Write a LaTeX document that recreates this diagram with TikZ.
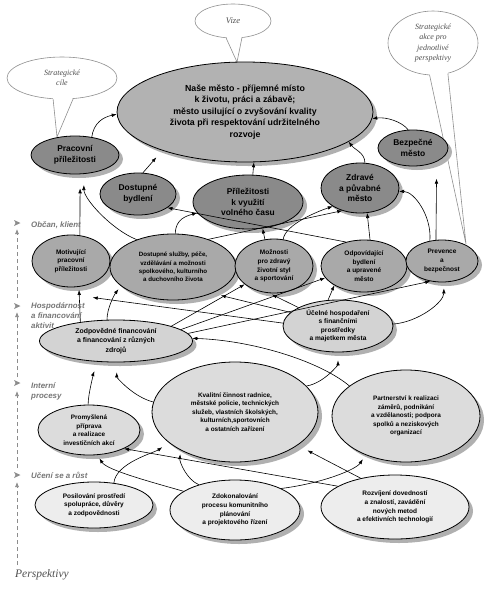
\documentclass[tikz,border=0pt]{standalone}
\usepackage{fontspec}
\setmainfont{Liberation Sans}
\newfontfamily\serifit{Liberation Serif}
\usetikzlibrary{shapes.geometric,shadows,arrows.meta,calc}
\definecolor{cdark}{HTML}{8A8A8A}
\definecolor{cmain}{HTML}{B2B2B2}
\definecolor{ccit}{HTML}{A9A9A9}
\definecolor{chos}{HTML}{D3D3D3}
\definecolor{cint}{HTML}{DCDCDC}
\definecolor{clrn}{HTML}{EDEDED}
\definecolor{cshadow}{HTML}{B0B0B0}
\definecolor{cbub}{HTML}{8F8F8F}
\definecolor{cbubtext}{HTML}{505050}
\definecolor{clab}{HTML}{777777}
\definecolor{caxis}{HTML}{8C8C8C}
\tikzset{
  sz/.style 2 args={minimum width=#1pt, minimum height=#2pt},
  nd/.style={ellipse, draw=black, line width=0.8pt, inner sep=0pt, align=center, text=black,
    drop shadow={shadow xshift=4pt, shadow yshift=-4pt, fill=cshadow, opacity=1}},
  sdark/.style={nd, fill=cdark, font=\fontsize{8.4}{10.8}\selectfont\bfseries},
  svis/.style={nd, fill=cmain, font=\fontsize{8.8}{11.4}\selectfont\bfseries},
  scit/.style={nd, fill=ccit, font=\fontsize{6.5}{8.6}\selectfont\bfseries},
  shos/.style={nd, fill=chos, font=\fontsize{6.6}{8.5}\selectfont\bfseries},
  sint/.style={nd, fill=cint, font=\fontsize{6.4}{8.6}\selectfont\bfseries},
  slrn/.style={nd, fill=clrn, font=\fontsize{6.5}{8.7}\selectfont\bfseries},
  bub/.style={ellipse, draw=cbub, line width=0.6pt, fill=white, inner sep=0pt, align=center,
    text=cbubtext, font=\serifit\itshape\fontsize{8}{10.5}\selectfont},
  lab/.style={font=\fontsize{7.9}{10}\selectfont\bfseries\itshape, text=clab, inner sep=0pt, align=left, anchor=west},
  arr/.style={-{Latex[length=5pt,width=3.6pt]}, line width=0.6pt, draw=black},
  tailline/.style={draw=cbub, line width=0.6pt},
  axisline/.style={draw=caxis, line width=0.7pt, dash pattern=on 4pt off 3pt, -{Latex[length=5pt,width=4pt]}},
}
\begin{document}
\begin{tikzpicture}[x=1pt,y=-1pt]
\fill[white] (0,0) rectangle (500,590);
\useasboundingbox (0,0) rectangle (500,590);

% ---------- callout bubbles ----------
\coordinate (vt) at (237,62);
\coordinate (ct) at (57,137);
\coordinate (at) at (466,244);
\node[bub, sz={76}{34}, font=\serifit\itshape\fontsize{8.6}{10}\selectfont] (vize) at (233,21) {Vize};
\node[bub, sz={110}{42}] (cile) at (62,78) {Strategické\\cíle};
\node[bub, sz={90}{64}] (akce) at (433,43) {Strategické\\akce pro\\jednotlivé\\perspektivy};
\fill[white] ([yshift=2pt]vize.-112) -- (vt) -- ([yshift=2pt]vize.-62) -- cycle;
\draw[tailline] (vize.-112) -- (vt) -- (vize.-62);
\fill[white] ([yshift=2pt]cile.-113) -- (ct) -- ([yshift=2pt]cile.-62) -- cycle;
\draw[tailline] (cile.-113) -- (ct) -- (cile.-62);
\fill[white] ([yshift=2pt]akce.-96) -- (at) -- ([yshift=2pt]akce.-64) -- cycle;
\draw[tailline] (akce.-96) -- (at) -- (akce.-64);

% ---------- vision and strategic goals ----------
\node[svis, sz={256}{100}] (vision) at (245,112) {Naše město - příjemné místo\\k životu, práci a zábavě;\\město usilující o zvyšování kvality\\života při respektování udržitelného\\rozvoje};
\node[sdark, sz={88}{38}] (prac) at (75,155) {Pracovní\\příležitosti};
\node[sdark, sz={76}{42}] (dbyd) at (138,194) {Dostupné\\bydlení};
\node[sdark, sz={110}{54}] (prilez) at (248,202) {Příležitosti\\k využití\\volného času};
\node[sdark, sz={78}{50}] (zdrav) at (360,188) {Zdravé\\a půvabné\\město};
\node[sdark, sz={70}{36}] (bezp) at (413,148) {Bezpečné\\město};

% ---------- citizen perspective ----------
\node[scit, sz={78}{52}] (motiv) at (71,261) {Motivující\\pracovní\\příležitosti};
\node[scit, sz={126}{66}, font=\fontsize{6.2}{8.2}\selectfont\bfseries] (dsluz) at (173,267) {Dostupné služby, péče,\\vzdělávání a možnosti\\spolkového, kulturního\\a duchovního života};
\node[scit, sz={78}{54}] (mozn) at (274,266) {Možnosti\\pro zdravý\\životní styl\\a sportování};
\node[scit, sz={86}{52}] (odpov) at (364,266) {Odpovídající\\bydlení\\a upravené\\město};
\node[scit, sz={72}{42}] (prev) at (442,261) {Prevence\\a\\bezpečnost};

% ---------- economy perspective ----------
\node[shos, sz={153}{42}, font=\fontsize{6.9}{9.5}\selectfont\bfseries] (zodp) at (116,341) {Zodpovědné financování\\a financování z různých\\zdrojů};
\node[shos, sz={110}{52}] (ucel) at (338,326) {Účelné hospodaření\\s  finančními\\prostředky\\a majetkem města};

% ---------- internal processes ----------
\node[sint, sz={102}{50}] (promy) at (89,430) {Promyšlená\\příprava\\a realizace\\investičních akcí};
\node[sint, sz={166}{100}] (kval) at (235,412) {Kvalitní činnost radnice,\\městské policie, technických\\služeb, vlastních školských,\\kulturních,sportovních\\a ostatních zařízení};
\node[sint, sz={148}{92}] (partn) at (406,416) {Partnerství k realizaci\\záměrů,  podnikání\\a vzdělanosti; podpora\\spolků a neziskových\\organizací};

% ---------- learning and growth ----------
\node[slrn, sz={118}{46}] (posil) at (94,505) {Posilování prostředí\\spolupráce, důvěry\\a zodpovědnosti};
\node[slrn, sz={130}{60}] (zdok) at (235,510) {Zdokonalování\\procesu komunitního\\plánování\\a projektového řízení};
\node[slrn, sz={148}{64}] (rozv) at (395,507) {Rozvíjení dovedností\\a znalostí, zavádění\\nových metod\\a efektivních technologií};

% ---------- connectors: goals -> vision ----------
\draw[arr] (prac.47) .. controls +(2,-14) and +(-14,3) .. (vision.181);
\draw[arr, shorten >=9pt] (dbyd.77) -- (vision.205);
\draw[arr] (prilez.80) -- (vision.-80);
\draw[arr] (zdrav.79) .. controls +(0,-10) and +(6,8) .. (vision.-16);
\draw[arr] (bezp.105) .. controls +(-6,-8) and +(14,-2) .. (vision.-3);

% ---------- citizen -> goals ----------
\draw[arr, shorten >=14pt] (motiv.71) -- (prac.-75);
\draw[arr, shorten >=11pt] (dsluz.143) .. controls +(-25,-10) and +(0,25) .. (prac.-65);
\draw[arr] (dsluz.86) .. controls +(0,-15) and +(-10,3) .. (prilez.192);
\draw[arr] (odpov.127) -- (dbyd.-25);
\draw[arr] (dsluz.38) -- (zdrav.232);
\draw[arr] (mozn.71) .. controls +(2,-15) and +(-15,5) .. (zdrav.214);
\draw[arr] (mozn.109) -- (prilez.-61);
\draw[arr] (odpov.77) -- (zdrav.-74);
\draw[arr] (prev.121) .. controls +(2,-25) and +(15,0) .. (zdrav.-5);
\draw[arr, shorten >=17pt] (prev.106) -- (bezp.-30);

% ---------- economy -> citizen ----------
\draw[arr, shorten >=3pt] (zodp.152) -- (motiv.-73);
\draw[arr, shorten >=4pt] (zodp.113) .. controls +(0,-12) and +(-6,8) .. (dsluz.200);
\draw[arr] (ucel.177) -- ([shift={(7,12)}]motiv.-59);
\draw[arr, shorten >=9pt] (ucel.164) -- (dsluz.-34);
\draw[arr, shorten >=3pt] (ucel.155) -- (mozn.-100);
\draw[arr] (zodp.15) -- (mozn.212);
\draw[arr] (zodp.10) -- (odpov.197);
\draw[arr] (zodp.6) -- (prev.240);
\draw[arr] (ucel.111) -- (odpov.213);
\draw[arr, shorten >=6pt] (ucel.2) .. controls +(25,-2) and +(0,20) .. (prev.-85);

% ---------- internal -> economy ----------
\draw[arr, shorten >=10pt] (promy.92) .. controls +(0,-12) and +(-3,8) .. (zodp.229);
\draw[arr, shorten >=10pt] (kval.173) .. controls +(-20,-5) and +(0,15) .. (zodp.-88);
\draw[arr] (partn.152) .. controls +(-30,-25) and +(60,2) .. (zodp.2);
\draw[arr, shorten >=8pt] (kval.20) .. controls +(18,-3) and +(0,12) .. (ucel.-90);

% ---------- learning -> internal ----------
\draw[arr, shorten >=4pt] (zdok.160) .. controls +(-35,-10) and +(10,15) .. (promy.-72);
\draw[arr] (rozv.160) -- (promy.-28);
\draw[arr, shorten >=8pt] (posil.48) .. controls +(2,-20) and +(-15,10) .. (kval.205);
\draw[arr, shorten >=4pt] (zdok.145) .. controls +(-12,-5) and +(-1,12) .. (kval.215);
\draw[arr, shorten >=11pt] (rozv.140) -- (kval.-28);
\draw[arr, shorten >=5pt] (zdok.25) .. controls +(40,-5) and +(-10,15) .. (partn.224);

% ---------- perspective axis ----------
\node[lab] (l1) at (31,225) {Občan, klient};
\node[lab] (l2) at (31,316) {Hospodárnost\\a financování\\aktivit};
\node[lab] (l3) at (31,391) {Interní\\procesy};
\node[lab] (l4) at (31,475) {Učení se a růst};
\node[anchor=west, inner sep=0pt, text=cbubtext, font=\serifit\itshape\fontsize{11.5}{13}\selectfont] (persp) at (15,575) {Perspektivy};
\foreach \yy in {223,306,383,475}{
  \fill[caxis] (14,\yy-3) -- (20.5,\yy) -- (14,\yy+3) -- (15.6,\yy) -- cycle;
}
\draw[axisline] (17,298) -- (17,229);
\draw[axisline] (17,377) -- (17,312);
\draw[axisline] (17,468) -- (17,391);
\draw[axisline] (17,565) -- (17,482);
\end{tikzpicture}
\end{document}
